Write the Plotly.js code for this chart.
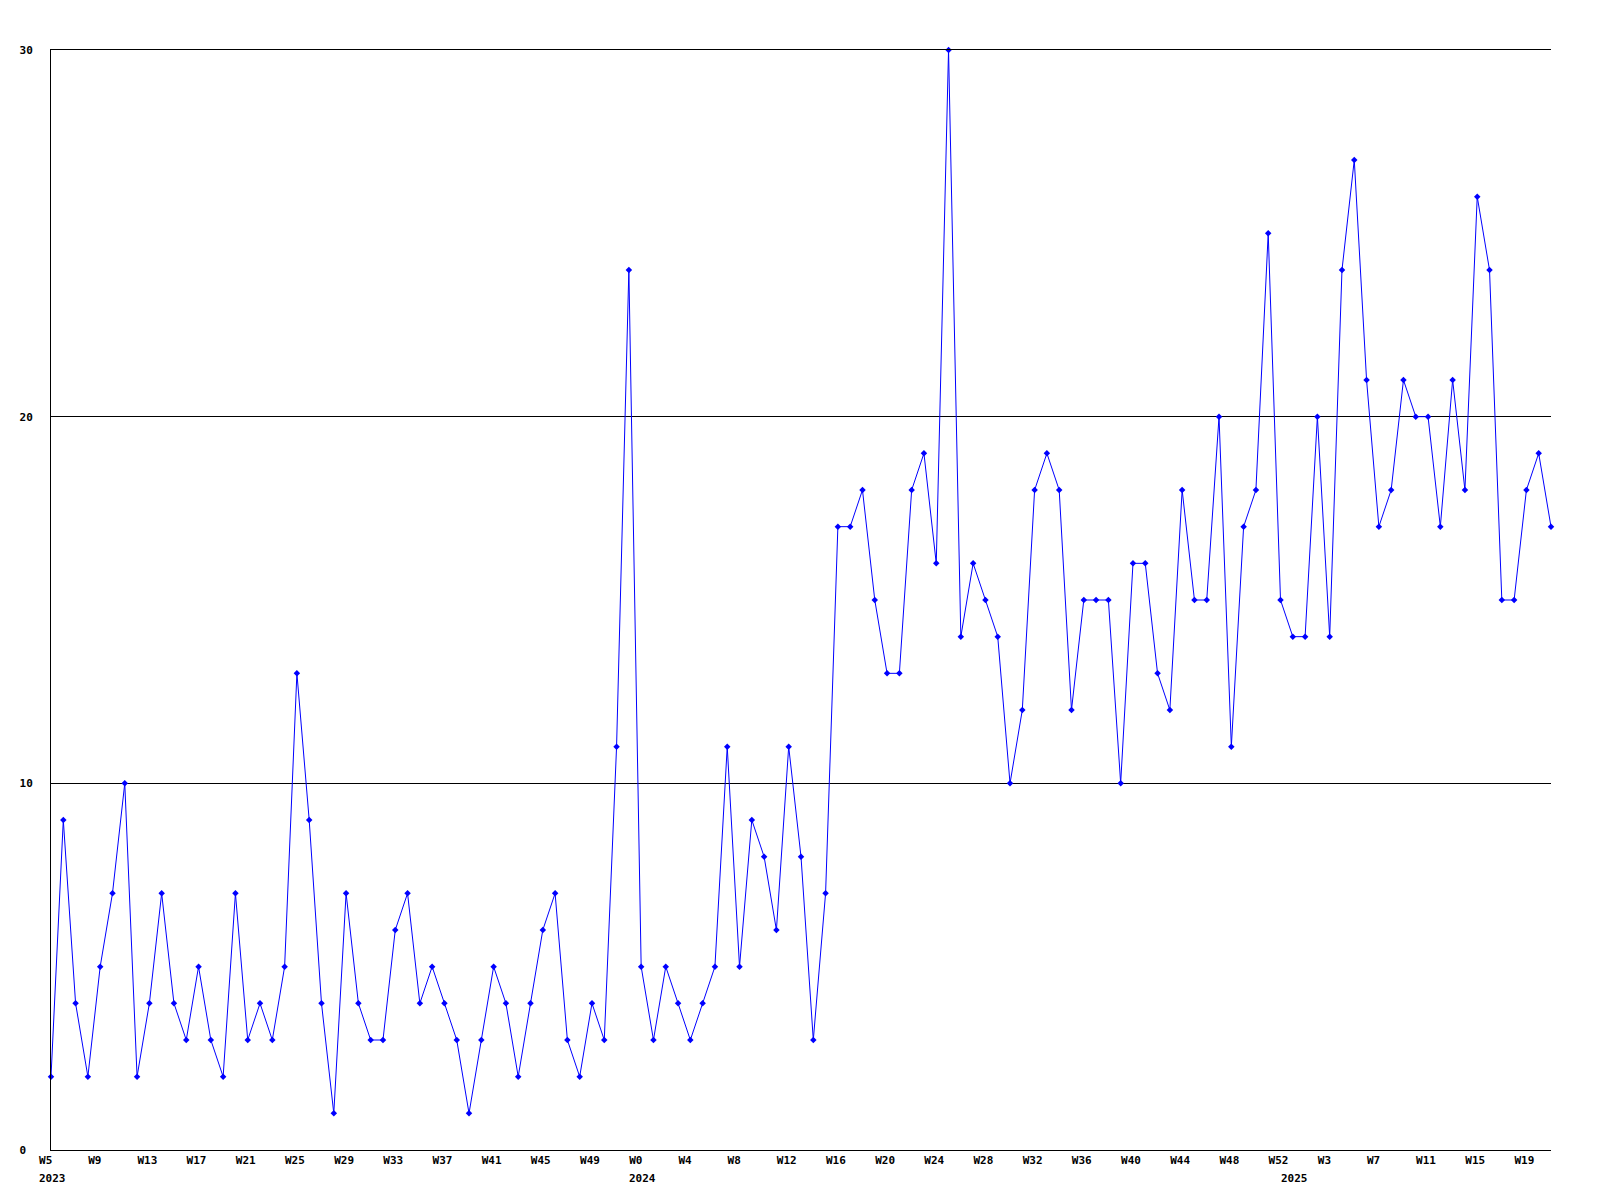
<!DOCTYPE html>
<html>
<head>
<meta charset="utf-8">
<script src="https://cdn.plot.ly/plotly-3.0.1.min.js"></script>
<style>html,body{margin:0;padding:0;background:#fff;}#chart{width:1600px;height:1200px;}</style>
</head>
<body>
<div id="chart"></div>
<script>
// ---- data (weekly counts) ----
const years = [2023, 2024, 2025];
const firstWeeks = [5, 0, 0];
const counts2023 = [2, 9, 4, 2, 5, 7, 10, 2, 4, 7, 4, 3, 5, 3, 2, 7, 3, 4, 3, 5, 13, 9, 4, 1, 7, 4, 3,
                    3, 6, 7, 4, 5, 4, 3, 1, 3, 5, 4, 2, 4, 6, 7, 3, 2, 4, 3, 11, 24];
const counts2024 = [5, 3, 5, 4, 3, 4, 5, 11, 5, 9, 8, 6, 11, 8, 3, 7, 17, 17, 18, 15, 13, 13, 18, 19, 16, 30,
                    14, 16, 15, 14, 10, 12, 18, 19, 18, 12, 15, 15, 15, 10, 16, 16, 13, 12, 18, 15, 15, 20,
                    11, 17, 18, 25, 15];
const counts2025 = [14, 14, 20, 14, 24, 27, 21, 17, 18, 21, 20, 20, 17, 21, 18, 26, 24, 15, 15, 18, 19, 17];
const yTickValues = [0, 10, 20, 30];
const labelEvery = 4;

// ---- build categories ----
const seriesByYear = [counts2023, counts2024, counts2025];
const categories = [], weekLabels = [], values = [], yearStarts = [];
years.forEach((yr, k) => {
  seriesByYear[k].forEach((v, i) => {
    const wk = firstWeeks[k] + i;
    const cat = yr + ' W' + wk;
    if (i === 0) yearStarts.push({cat: cat, year: yr});
    categories.push(cat);
    weekLabels.push('W' + wk);
    values.push(v);
  });
});
const NB = '\u00a0';
const tickvals = [], ticktext = [];
for (let i = 0; i < categories.length; i += labelEvery) {
  tickvals.push(categories[i]);
  let t = weekLabels[i];
  while (t.length < 3) t += NB;
  ticktext.push(t);
}
const yTickText = yTickValues.map(v => { let s = String(v); while (s.length < 2) s += NB; return s; });

const FONT = {family: 'DejaVu Sans Mono, monospace', size: 11, color: '#000', weight: 'bold'};

const trace = {
  type: 'scatter',
  mode: 'lines+markers',
  x: categories,
  y: values,
  line: {color: '#0000ff', width: 1},
  marker: {color: '#0000ff', size: 5, symbol: 'diamond'},
  cliponaxis: false,
  hoverinfo: 'skip'
};

const layout = {
  width: 1600, height: 1200,
  margin: {l: 51, r: 49, t: 50, b: 50, pad: 0},
  paper_bgcolor: '#fff', plot_bgcolor: '#fff',
  showlegend: false,
  font: FONT,
  xaxis: {
    type: 'category',
    range: [0, categories.length - 1],
    tickmode: 'array', tickvals: tickvals, ticktext: ticktext,
    ticks: '', showgrid: false, zeroline: false,
    showline: true, mirror: true, linecolor: '#000', linewidth: 1,
    tickfont: FONT, ticklabelshift: -2, ticklabelstandoff: 0
  },
  yaxis: {
    range: [0, 30],
    tickmode: 'array', tickvals: yTickValues, ticktext: yTickText,
    ticks: '', showgrid: true, gridcolor: '#000', gridwidth: 1,
    zeroline: false, showline: true, linecolor: '#000', linewidth: 1,
    tickfont: FONT, ticklabelstandoff: 15
  },
  annotations: yearStarts.map(s => ({
    x: s.cat, xref: 'x', y: 0, yref: 'paper',
    text: String(s.year), showarrow: false,
    xanchor: 'left', yanchor: 'middle', xshift: -12, yshift: -28.8,
    borderpad: 0, borderwidth: 0,
    font: FONT
  }))
};

Plotly.newPlot('chart', [trace], layout, {staticPlot: true, displayModeBar: false});
</script>
</body>
</html>
